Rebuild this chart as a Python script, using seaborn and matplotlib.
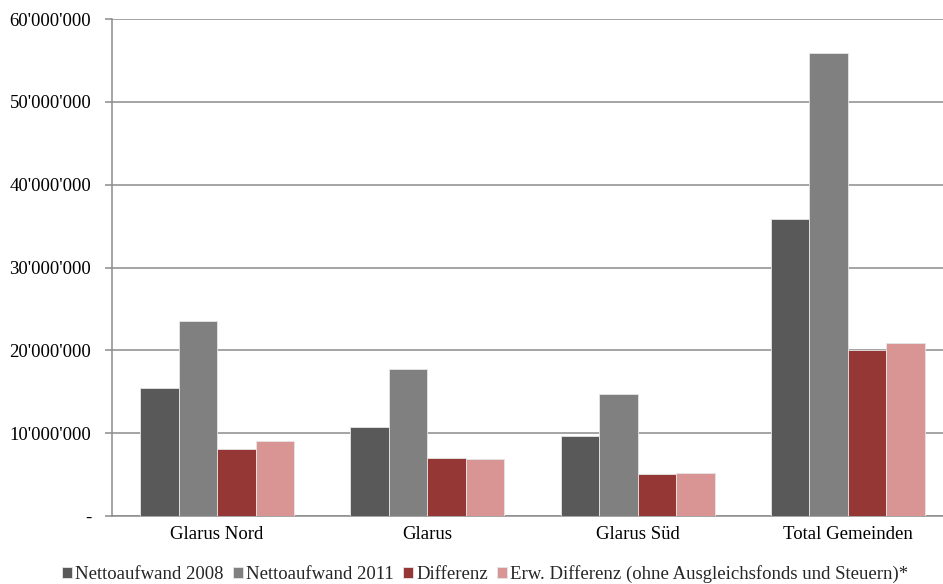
import matplotlib
matplotlib.use("Agg")
import matplotlib.pyplot as plt
import seaborn as sns
import pandas as pd
from matplotlib.patches import Patch
from matplotlib.ticker import FuncFormatter, FixedLocator

categories = ["Glarus Nord", "Glarus", "Glarus Süd", "Total Gemeinden"]
series = ["Nettoaufwand 2008", "Nettoaufwand 2011", "Differenz",
          "Erw. Differenz (ohne Ausgleichsfonds und Steuern)*"]
netto_2008 = [15_450_000, 10_700_000, 9_700_000, 35_800_000]
netto_2011 = [23_500_000, 17_700_000, 14_700_000, 55_950_000]
differenz = [8_100_000, 7_050_000, 5_050_000, 20_050_000]
erw_differenz = [9_000_000, 6_850_000, 5_200_000, 20_900_000]
colors = ["#595959", "#808080", "#953735", "#D99594"]

rows = []
for name, vals in zip(series, [netto_2008, netto_2011, differenz, erw_differenz]):
    for cat, v in zip(categories, vals):
        rows.append({"Gemeinde": cat, "Reihe": name, "Betrag": v})
df = pd.DataFrame(rows)

sns.set_theme(style="white")
plt.rcParams["font.family"] = ["Liberation Serif", "DejaVu Serif"]
fs = 13.5

fig = plt.figure(figsize=(9.43, 5.84), dpi=100)
ax = fig.add_axes([112 / 943, 68 / 584, 841 / 943, 497 / 584])

sns.barplot(data=df, x="Gemeinde", y="Betrag", hue="Reihe", order=categories,
            hue_order=series, palette=colors, width=0.733, gap=0,
            edgecolor="#e6e6e6", linewidth=0.6, saturation=1, ax=ax,
            legend=False, zorder=3)

grid_c = "#8c8c8c"
ax.set_ylim(0, 60_000_000)
ax.set_xlim(-0.5, 3.5)
ax.set_yticks(range(0, 60_000_001, 10_000_000))
ax.yaxis.set_major_formatter(FuncFormatter(
    lambda v, p: "-" if v == 0 else f"{int(v):,}".replace(",", "'")))
ax.grid(axis="y", color=grid_c, linewidth=1.1, zorder=0)
ax.set_axisbelow(True)

ax.xaxis.set_major_locator(FixedLocator([0, 1, 2, 3]))
ax.set_xticklabels(categories)
ax.xaxis.set_minor_locator(FixedLocator([-0.5, 0.5, 1.5, 2.5, 3.5]))
ax.tick_params(axis="x", which="major", length=0, pad=7, labelsize=fs, colors="black")
ax.tick_params(axis="x", which="minor", length=5, width=1.1, color=grid_c, direction="out")
ax.tick_params(axis="y", length=5, width=1.1, color=grid_c, direction="out",
               pad=10, labelsize=fs, labelcolor="black", left=True)

for side in ["top", "right"]:
    ax.spines[side].set_visible(False)
for side in ["left", "bottom"]:
    ax.spines[side].set_color(grid_c)
    ax.spines[side].set_linewidth(1.1)

ax.set_xlabel("")
ax.set_ylabel("")

handles = [Patch(facecolor=c, edgecolor="#e6e6e6", linewidth=0.6) for c in colors]
fig.legend(handles, series, loc="center", bbox_to_anchor=(485 / 943, 1 - 574 / 584),
           ncol=4, frameon=False, fontsize=fs, handlelength=0.55, handleheight=0.55,
           handletextpad=0.15, columnspacing=0.5, borderaxespad=0)

fig.savefig("out.png", dpi=100)
